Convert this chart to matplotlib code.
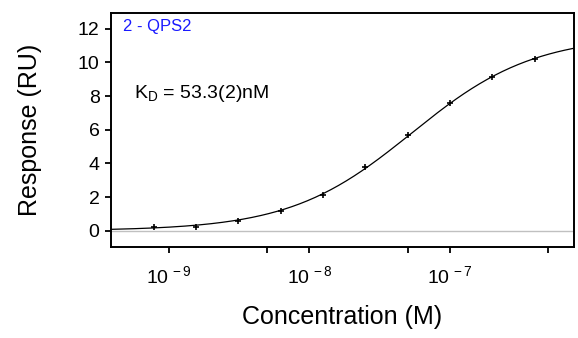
import numpy as np
import matplotlib
matplotlib.use("Agg")
import matplotlib.pyplot as plt
from matplotlib.ticker import FixedLocator, FuncFormatter, NullFormatter

plt.rcParams['font.family'] = ['Liberation Sans', 'DejaVu Sans']
plt.rcParams['mathtext.fontset'] = 'custom'
plt.rcParams['mathtext.rm'] = 'Liberation Sans'
plt.rcParams['mathtext.it'] = 'Liberation Sans'

# measured points (2-fold dilution series)
conc = [7.8e-10, 1.56e-9, 3.125e-9, 6.25e-9, 1.25e-8, 2.5e-8, 5e-8, 1e-7, 2e-7, 4e-7]
resp = [0.20, 0.24, 0.59, 1.19, 2.12, 3.77, 5.69, 7.59, 9.13, 10.18]

# fit parameters
kd = 53.3e-9
rmax = 11.6

xmin, xmax = 3.86e-10, 7.6e-7
major = [1e-9, 1e-8, 1e-7]
minor = [5e-9, 5e-8, 5e-7]

fig = plt.figure(figsize=(5.78, 3.38), dpi=100)
ax = fig.add_axes([0.1915, 0.27, 0.8015, 0.6924])

cfit = np.logspace(np.log10(xmin), np.log10(xmax), 300)
ax.axhline(0, color='#c0c0c0', lw=1.0, zorder=1)
ax.plot(cfit, rmax * cfit / (kd + cfit), color='black', lw=0.9, zorder=2)
ax.plot(conc, resp, '+', color='black', ms=5, mew=1.2, zorder=3)

ax.set_xscale('log')
ax.set_xlim(xmin, xmax)
ax.set_ylim(-0.95, 12.95)
ax.set_yticks([0, 2, 4, 6, 8, 10, 12])

ax.xaxis.set_major_locator(FixedLocator(major))
ax.xaxis.set_minor_locator(FixedLocator(minor))
ax.xaxis.set_minor_formatter(NullFormatter())
ax.xaxis.set_major_formatter(FuncFormatter(
    lambda v, p: r'$\mathregular{10^{\,%d}}$' % int(round(np.log10(v)))))

for s in ax.spines.values():
    s.set_linewidth(1.4)
ax.tick_params(which='both', direction='out', length=4.5, width=1.3,
               labelsize=14, top=False, right=False)
ax.tick_params(axis='x', pad=9)

ax.set_xlabel('Concentration (M)', fontsize=18, labelpad=13)
ax.set_ylabel('Response (RU)', fontsize=18, labelpad=26)

ax.text(0.027, 0.94, '2 - QPS2', transform=ax.transAxes, color='#1a1aff',
        fontsize=12, va='center', ha='left')
ax.text(0.05, 0.655, r'K$_\mathregular{D}$ = 53.3(2)nM', transform=ax.transAxes,
        color='black', fontsize=14, va='center', ha='left')

fig.savefig('out.png', dpi=100)
